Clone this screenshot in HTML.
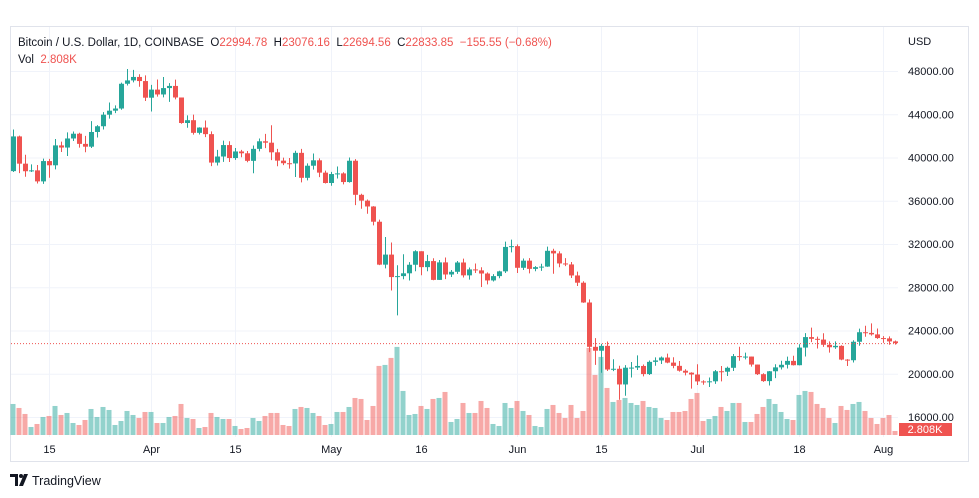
<!DOCTYPE html>
<html><head><meta charset="utf-8"><style>
body{margin:0;background:#fff;font-family:"Liberation Sans",sans-serif;}
#wrap{position:relative;width:979px;height:498px;overflow:hidden;}
svg text{font-family:"Liberation Sans",sans-serif;}
</style></head><body>
<div id="wrap">
<svg id="chart" width="979" height="498"></svg>
</div>
<script>
const firstOpen = 38740;
const closes = [41950,39430,38730,38810,37790,39670,39280,41120,40920,41760,42200,41260,41000,42360,42890,43960,44330,44530,46820,47130,47450,47070,45530,
46280,45830,46420,46620,45550,43190,43450,42280,42770,42160,39530,40090,41150,39950,40560,40390,39690,40800,41500,41370,40480,39710,39470,39450,40430,38120,39240,39740,38600,37640,
38470,38530,37730,39700,36550,36010,35470,34060,30090,31020,28940,29030,29290,30080,31330,29860,30420,28680,30300,29180,29430,30290,29100,29650,29560,29270,28630,29030,29470,31730,31800,
29800,30460,29700,29860,29910,31370,31130,30200,30110,29090,28420,26590,22490,22130,22580,20390,20460,19010,20560,20570,20720,19970,21100,21230,21500,21030,20730,20280,20100,19930,
19290,19250,19300,20230,20190,20550,21630,21580,21590,20850,19960,19320,20230,20590,20830,21190,20790,22420,23390,23230,23160,22680,22450,22580,21310,21250,22960,23840,23780,23640,23300,
23270,22990,22833.85];
const highs = [42590,42020,40250,39360,39310,39900,39870,41710,41470,42320,42400,42290,42000,43360,43000,44200,45090,44820,46920,48190,48100,47700,47600,
46720,47210,47440,46880,47200,45550,43900,43970,42800,43420,42420,40700,41560,41500,40880,40710,40600,41110,41760,42190,42980,40800,39990,39950,40620,40800,39460,40370,39920,38790,
38670,39170,38640,40000,39850,36650,36120,35500,34250,32650,32140,30030,31050,30320,31420,31330,31000,30680,30520,30750,29600,30430,30650,29830,30200,29850,29370,29210,29530,32220,32400,
31970,30660,30690,29950,30170,31760,31560,31330,30690,30330,29440,28550,26880,23300,22760,22980,21340,20740,20800,21090,21700,20850,21220,21520,21600,21860,21530,21180,20420,20140,
20880,19400,19650,20350,20720,20660,21830,22500,21950,21600,20860,20050,20260,20880,21200,21580,21670,22730,23760,24270,23430,23740,22990,22990,22640,21350,23100,24170,24440,24660,24190,
23480,23460,23076.16];
const lows = [38660,38550,38220,38660,37590,37560,38130,38900,40510,40140,41530,40910,40480,40880,41850,42590,43600,44100,44420,46660,46950,46540,45220,
44250,45630,45560,45140,45370,43120,42750,42120,42130,41880,39200,39260,39600,39580,39780,40020,39560,38540,40570,40870,39760,39190,39300,38970,38200,37700,37880,38880,38190,37590,
37390,38060,37520,37680,35600,35260,34800,33720,30050,29750,27700,25400,28740,28630,29480,29110,29480,28650,28670,28750,28950,29240,28900,28700,29320,28020,28270,28530,28830,29320,31230,
29320,29600,29280,29480,29520,29880,29250,29850,29950,28860,28120,26560,22000,20820,20090,20250,20240,17600,17960,19650,20350,19760,19890,20740,20900,20970,20510,20200,19850,18620,
18960,18980,18780,19060,19300,19790,20250,21200,21330,20660,19890,19250,18910,19600,20390,20480,20760,20770,21600,22920,22340,22490,21950,22300,21250,20720,21040,22590,23420,23530,23230,
22850,22680,22694.56];
const volumes = [21.7,18.9,14.7,5.6,7.7,12.6,13.3,20.3,14,15.4,8.4,7,10.5,18.2,12.6,19.6,17.5,7,9.8,16.8,14,11.9,16.1,16.1,8.4,8.4,12.6,13.3,21.7,11.9,11.2,4.9,5.6,15.4,12.6,11.2,11.2,
6.3,4.2,4.9,11.9,9.8,13.3,15.4,15.4,7,6.3,18.2,19.6,18.9,15.4,13.3,7,7.7,16.1,16.1,19.6,25.9,25.2,10.5,20.3,48.3,49,53.9,61.6,30.8,14,14.7,20.3,18.2,25.2,25.9,
30.1,9.1,11.2,22.4,15.4,15.4,23.8,18.9,7.7,6.3,22.4,18.9,23.8,16.8,14,6.3,5.6,18.2,21,15.4,11.9,21,11.9,16.8,60.9,42,54.6,32.9,23.1,24.5,25.9,22.4,21,23.8,19.6,18.9,
11.9,10.5,16.1,16.1,16.8,25.2,29.4,9.8,11.2,13.3,19.6,16.8,22.4,22.4,9.1,9.1,14.7,19.6,25.2,21.7,16.1,11.2,10.5,28,30.8,30.1,21.7,18.9,11.9,8.4,20.3,17.5,21.7,23.1,16.8,11.9,7.7,11.9,14,2.808];
const priceTicks = [48000,44000,40000,36000,32000,28000,24000,20000,16000];
const dateTickIdx = [6,23,37,53,68,84,98,114,131,145];
const dateTickLabels = ["15","Apr","15","May","16","Jun","15","Jul","18","Aug"];

const NS = "http://www.w3.org/2000/svg";
const svg = document.getElementById('chart');
const GREEN = "#26a69a", RED = "#ef5350";
function yP(p){ return 71 + (48000 - p) * 0.0108125; }
function xI(i){ return 13 + i * 6; }
function yV(v){ return 435 - v * 1.43; }
function mk(tag, attrs, parent){
  const e = document.createElementNS(NS, tag);
  for (const k in attrs) e.setAttribute(k, attrs[k]);
  (parent || svg).appendChild(e);
  return e;
}
// frame
const frame = mk('rect',{x:10.5,y:26.5,width:958,height:435,fill:'none',stroke:'#e0e3eb'});


// grid
const grid = mk('g',{});


priceTicks.forEach(p=>{
  const l = mk('line',{x1:11,x2:898,y1:yP(p)+0.5,y2:yP(p)+0.5,stroke:'#f0f3fa'},grid);
  
  
});
dateTickIdx.forEach(i=>{
  const l = mk('line',{x1:xI(i)+0.5,x2:xI(i)+0.5,y1:27,y2:437,stroke:'#f0f3fa'},grid);
  
  
});
// volume
const vg = mk('g',{});


closes.forEach((c,i)=>{
  const o = i===0 ? firstOpen : (i===closes.length-1 ? 22994.78 : closes[i-1]);
  const up = c >= o;
  const y = yV(volumes[i]);
  const r = mk('rect',{x:xI(i)-2.5,y:y,width:5,height:435-y,fill:up?'rgba(38,166,154,0.5)':'rgba(239,83,80,0.5)'},vg);
  
  
});
// candles
const cg = mk('g',{});


closes.forEach((c,i)=>{
  const o = i===0 ? firstOpen : (i===closes.length-1 ? 22994.78 : closes[i-1]);
  const col = c >= o ? GREEN : RED;
  const x = xI(i);
  const w = mk('line',{x1:x+0.5,x2:x+0.5,y1:yP(highs[i]),y2:yP(lows[i]),stroke:col,'stroke-width':1},cg);
  
  
  const top = yP(Math.max(o,c)), bot = yP(Math.min(o,c));
  const b = mk('rect',{x:x-2,y:top,width:5,height:Math.max(1,bot-top),fill:col},cg);
  
  
});
// last price line
const lastC = closes[closes.length-1];
const pl = mk('line',{x1:11,x2:898,y1:yP(lastC)+0.5,y2:yP(lastC)+0.5,stroke:RED,'stroke-width':1,'stroke-dasharray':'1 2'});


// price axis
const pa = mk('g',{});


const usd = mk('text',{x:908,y:45,'font-size':11,fill:'#131722'},pa);
usd.textContent = 'USD';


priceTicks.forEach(p=>{
  const t = mk('text',{x:908,y:yP(p)+4,'font-size':11,fill:'#131722'},pa);
  t.textContent = p.toFixed(2);
  
  
});
const vb = mk('rect',{x:899,y:423,width:53,height:13,fill:RED},pa);


const vt = mk('text',{x:925,y:433,'font-size':11,fill:'#fff','text-anchor':'middle'},pa);
vt.textContent = '2.808K';


// time axis
const ta = mk('g',{});


dateTickIdx.forEach((i,k)=>{
  const t = mk('text',{x:xI(i)+0.5,y:453,'font-size':11,fill:'#131722','text-anchor':'middle'},ta);
  t.textContent = dateTickLabels[k];
  
  
});
// header
const h = mk('text',{x:18,y:46,'font-size':11.5,fill:'#131722'});


h.innerHTML = 'Bitcoin / U.S. Dollar, 1D, COINBASE\u00a0\u00a0O<tspan fill="#ef5350">22994.78</tspan>\u00a0\u00a0H<tspan fill="#ef5350">23076.16</tspan>\u00a0\u00a0L<tspan fill="#ef5350">22694.56</tspan>\u00a0\u00a0C<tspan fill="#ef5350">22833.85\u00a0\u00a0−155.55 (−0.68%)</tspan>';
const v = mk('text',{x:18,y:63,'font-size':11.5,fill:'#131722'});


v.innerHTML = 'Vol\u00a0\u00a0<tspan fill="#ef5350">2.808K</tspan>';
// logo
const lg = mk('g',{});


mk('path',{d:'M10 474h8v12h-3v-9h-5z',fill:'#131722'},lg);
mk('circle',{cx:21,cy:476,r:2,fill:'#131722'},lg);
mk('path',{d:'M24 474h4l-5 12h-4z',fill:'#131722'},lg);
const lt = mk('text',{x:32,y:485,'font-size':12.5,fill:'#131722'},lg);
lt.textContent = 'TradingView';
</script>
</body></html>
